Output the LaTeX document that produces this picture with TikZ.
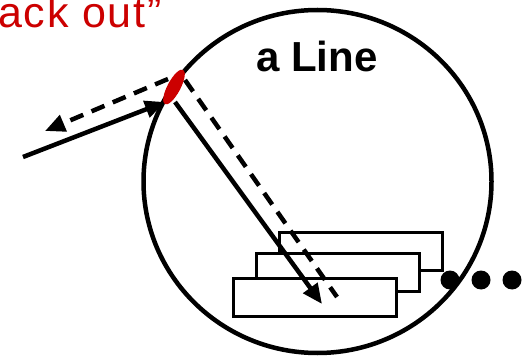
\documentclass[tikz,border=0pt]{standalone}
\usepackage{fontspec}
\setmainfont{Liberation Sans}
\usetikzlibrary{shapes.geometric,arrows.meta}
\definecolor{spotred}{RGB}{204,0,0}
\begin{document}
\begin{tikzpicture}[x=1pt,y=-1pt,
  ring/.style={draw, line width=4.5pt, ellipse, minimum width=348pt, minimum height=343pt, inner sep=0pt},
  card/.style={draw, fill=white, line width=3pt, minimum width=163pt, minimum height=38pt, inner sep=0pt},
  dotmark/.style={circle, fill=black, minimum size=19pt, inner sep=0pt},
  ray/.style={line width=4.5pt},
  dashray/.style={ray, dash pattern=on 14pt off 9pt},
  tipped/.style={-{Triangle[length=20pt,width=17pt]}},
  spot/.style={ellipse, fill=spotred, minimum width=13pt, minimum height=39pt, inner sep=0pt, rotate=-28}
]
\useasboundingbox (0,0) rectangle (527,358);
\clip (0,0) rectangle (527,358);

\node[ring] (world) at (317.5,181.5) {};

\node[card] (back) at (360.5,251) {};
\node[card] (mid) at (338,272) {};
\node[card] (front) at (314.5,297.5) {};

\node[dotmark] (d1) at (450,280) {};
\node[dotmark] (d2) at (481,280) {};
\node[dotmark] (d3) at (512,280) {};

\node[font=\bfseries\fontsize{42}{42}\selectfont, anchor=base west, inner sep=0pt] (title) at (256,72) {a Line};
\node[text=spotred, font=\fontsize{43}{43}\selectfont\addfontfeature{LetterSpace=4}, anchor=base west, inner sep=0pt] (quote) at (-2,27.5) {ack out”};

\coordinate (inStart) at (23,157);
\coordinate (inEnd) at (165,102);
\coordinate (outStart) at (168,79);
\coordinate (outEnd) at (45,131);
\coordinate (downStart) at (175,102);
\coordinate (downEnd) at (322,304);
\coordinate (dashStart) at (185,80);
\coordinate (dashEnd) at (337,297);

\draw[ray, tipped] (inStart) -- (inEnd);
\draw[dashray, tipped] (outStart) -- (outEnd);
\draw[ray, tipped] (downStart) -- (downEnd);
\draw[dashray] (dashStart) -- (dashEnd);

\node[spot] (hit) at (174,87) {};
\end{tikzpicture}
\end{document}
